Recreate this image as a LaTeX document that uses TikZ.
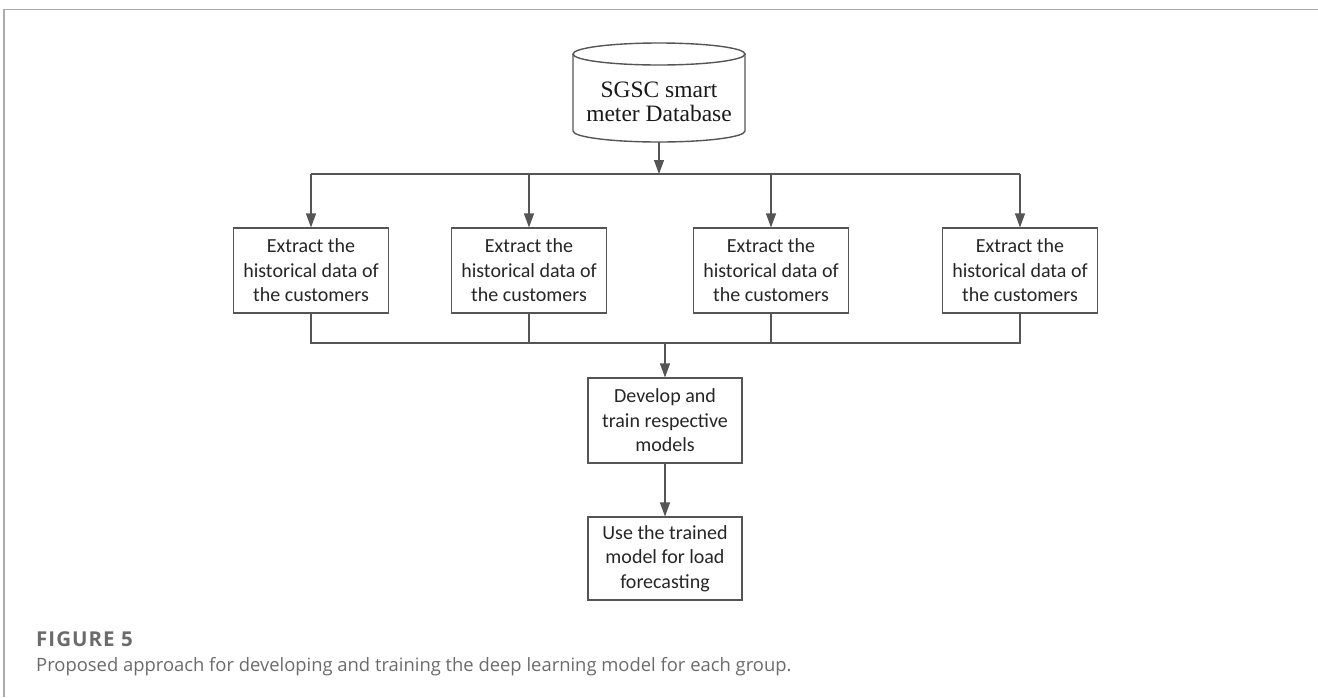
\documentclass[tikz,border=0pt]{standalone}
\usepackage{fontspec}
\setmainfont{Liberation Serif}
\newfontfamily\boxfont{Carlito}
\newfontfamily\capfont{Open Sans}
\newfontfamily\capboldfont[LetterSpace=5]{Open Sans}
\usetikzlibrary{arrows.meta}
\definecolor{linegray}{HTML}{555555}
\definecolor{capgray}{HTML}{6B6B6B}
\definecolor{framegray}{HTML}{AAAAAA}
\begin{document}
\begin{tikzpicture}[x=1pt,y=-1pt,
  stepbox/.style={draw=linegray, line width=1.1pt, minimum width=155pt, minimum height=85pt, inner sep=0pt, align=center, font=\boxfont\fontsize{20}{24.4}\selectfont, text=black!85},
  conn/.style={draw=linegray, line width=1.1pt},
  arr/.style={conn, -{Triangle[length=14pt,width=10pt]}},
  captext/.style={anchor=base west, text=capgray, inner sep=0pt},
]
\useasboundingbox (0,0) rectangle (1318,697);
\draw[framegray, line width=1.5pt] (4,697) -- (4,9.5) -- (1318,9.5);
% database cylinder
\node[minimum width=172pt, minimum height=99pt, inner sep=0pt] (db) at (659,92.5) {};
\draw[linegray, line width=1.4pt] (659,54) ellipse [x radius=86pt, y radius=11pt];
\draw[linegray, line width=1.4pt] (573,54) -- (573,131) arc[start angle=180, end angle=360, x radius=86pt, y radius=11pt] -- (745,54);
\node[font=\fontsize{23.5}{24.5}\selectfont, align=center, text=black!90, inner sep=0pt] (dbtext) at (659,102) {SGSC smart\\meter Database};
% extract boxes
\node[stepbox] (e1) at (311,270.5) {Extract the\\historical data of\\the customers};
\node[stepbox] (e2) at (529,270.5) {Extract the\\historical data of\\the customers};
\node[stepbox] (e3) at (771,270.5) {Extract the\\historical data of\\the customers};
\node[stepbox] (e4) at (1020,270.5) {Extract the\\historical data of\\the customers};
\node[stepbox, minimum width=154pt] (dev) at (665,420.5) {Develop and\\train respective\\models};
\node[stepbox, minimum width=154pt, minimum height=83pt] (use) at (665,558.5) {Use the trained\\model for load\\forecasting};
% connectors
\coordinate (busT) at (659,174);
\coordinate (busB) at (665,343);
\draw[arr] (db.south) -- (busT);
\draw[conn] (e1.north |- busT) -- (e4.north |- busT);
\foreach \n in {e1,e2,e3,e4} \draw[arr] (\n.north |- busT) -- (\n.north);
\draw[conn] (e1.south) -- (e1.south |- busB) -- (e4.south |- busB) -- (e4.south);
\draw[conn] (e2.south) -- (e2.south |- busB);
\draw[conn] (e3.south) -- (e3.south |- busB);
\draw[arr] (busB) -- (dev.north);
\draw[arr] (dev.south) -- (use.north);
% caption
\node[captext, font=\capboldfont\bfseries\fontsize{20.5}{22}\selectfont] (figlabel) at (36,646) {FIGURE 5};
\node[captext, font=\capfont\fontsize{18.4}{20}\selectfont] (caption) at (36,671) {Proposed approach for developing and training the deep learning model for each group.};
\end{tikzpicture}
\end{document}
